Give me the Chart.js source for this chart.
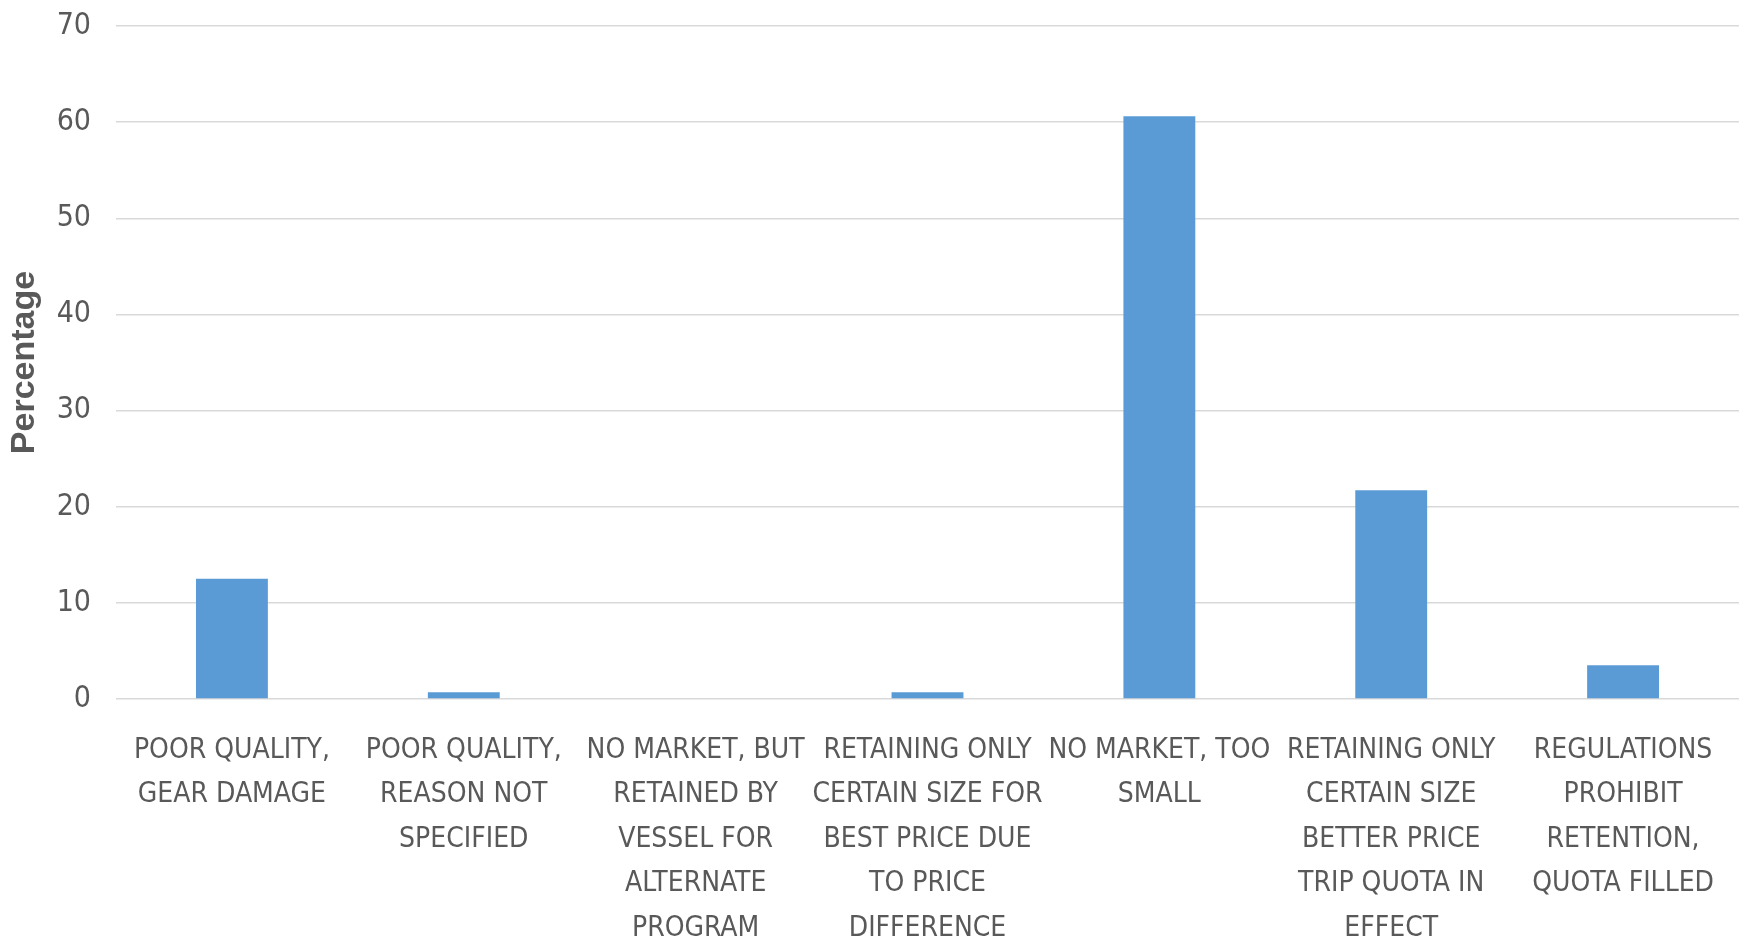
<!DOCTYPE html>
<html>
<head>
<meta charset="utf-8">
<script src="https://cdn.jsdelivr.net/npm/chart.js@4.4.0/dist/chart.umd.min.js"></script>
<style>
  html, body { margin: 0; padding: 0; background: #fff; }
  #wrap { width: 1746px; height: 943px; }
</style>
</head>
<body>
<div id="wrap"><canvas id="reasonChart" width="1746" height="943"></canvas></div>
<script>
const reasons = [
  ["POOR QUALITY,", "GEAR DAMAGE"],
  ["POOR QUALITY,", "REASON NOT", "SPECIFIED"],
  ["NO MARKET, BUT", "RETAINED BY", "VESSEL FOR", "ALTERNATE", "PROGRAM"],
  ["RETAINING ONLY", "CERTAIN SIZE FOR", "BEST PRICE DUE", "TO PRICE", "DIFFERENCE"],
  ["NO MARKET, TOO", "SMALL"],
  ["RETAINING ONLY", "CERTAIN SIZE", "BETTER PRICE", "TRIP QUOTA IN", "EFFECT"],
  ["REGULATIONS", "PROHIBIT", "RETENTION,", "QUOTA FILLED"]
];
const percentages = [12.5, 0.7, 0, 0.7, 60.6, 21.7, 3.5];
const yTicks = [0, 10, 20, 30, 40, 50, 60, 70];

const textGray = '#595959';
const narrow = "'Liberation Sans Narrow', 'DejaVu Sans Condensed', sans-serif";

const ctx = document.getElementById('reasonChart').getContext('2d');
window.reasonChart = new Chart(ctx, {
  type: 'bar',
  data: {
    labels: reasons,
    datasets: [{
      label: 'Percentage',
      data: percentages,
      backgroundColor: '#5B9BD5',
      borderWidth: 0,
      categoryPercentage: 1,
      barPercentage: 0.31
    }]
  },
  options: {
    responsive: false,
    animation: false,
    layout: { padding: { top: 26, right: 7, left: 0, bottom: 0 } },
    plugins: {
      legend: { display: false },
      tooltip: { enabled: false }
    },
    scales: {
      x: {
        grid: { display: false, drawTicks: false },
        border: { display: false },
        ticks: {
          color: textGray,
          font: { family: narrow, size: 28, lineHeight: 1.59 },
          padding: 29,
          maxRotation: 0,
          minRotation: 0,
          autoSkip: false
        },
        afterFit: scale => {
          scale.height = 244;
          scale.paddingLeft = 0;
          scale.paddingRight = 0;
        }
      },
      y: {
        min: 0,
        max: 70,
        afterBuildTicks: scale => { scale.ticks = yTicks.map(v => ({ value: v })); },
        grid: { color: '#D9D9D9', lineWidth: 1.5, drawTicks: false },
        border: { display: false },
        ticks: {
          color: textGray,
          font: { family: narrow, size: 30 },
          padding: 25
        },
        title: {
          display: true,
          text: 'Percentage',
          color: textGray,
          font: { family: "'Liberation Sans', sans-serif", size: 34, weight: 'bold' },
          padding: { top: 4, bottom: 0 }
        },
        afterFit: scale => {
          scale.width = 116;
          scale.paddingTop = 0;
          scale.paddingBottom = 0;
        }
      }
    }
  }
});
</script>
</body>
</html>
